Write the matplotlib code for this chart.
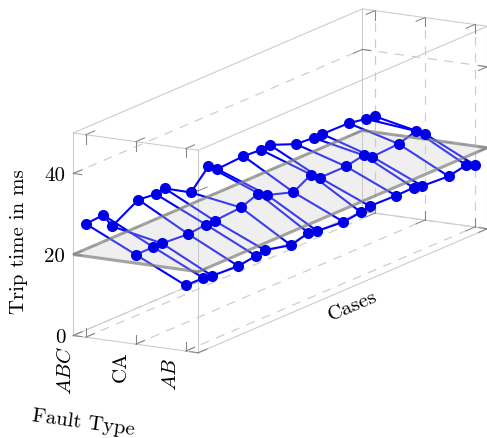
import numpy as np
import matplotlib
matplotlib.use('Agg')
import matplotlib.pyplot as plt

plt.rcParams['mathtext.fontset'] = 'cm'
plt.rcParams['axes.formatter.use_mathtext'] = True

# Data
fault_pos = [1, 2, 3]
fault_labels = [r'$ABC$', 'CA', r'$AB$']
case_pos = [0, 2, 3, 6, 8, 9, 12, 14, 15, 18, 20, 21, 24, 26, 27, 30, 32, 33]
time_abc = [28.0, 28.3, 24.6, 28.4, 27.9, 28.4, 24.6, 29.2, 27.6,
            28.0, 27.7, 28.0, 25.4, 25.1, 25.1, 25.0, 24.2, 23.9]
time_ca = [22.1, 22.1, 22.1, 21.6, 22.1, 22.1, 22.6, 24.2, 22.9,
           20.8, 23.3, 21.6, 21.6, 22.5, 21.2, 21.6, 22.9, 21.3]
time_ab = [16.2, 16.2, 15.8, 15.4, 16.1, 16.6, 15.0, 16.2, 15.7,
           15.2, 15.7, 16.3, 16.1, 16.2, 15.7, 15.3, 16.2, 15.3]
time_ticks = [0, 20, 40]
threshold = 20

# Axis limits
xmin, xmax = 0.75, 3.25
ymin, ymax = 0, 33
zmin, zmax = 0, 50


def project(f, c, t):
    # parallel projection of the 3d axis onto the page, in pixels
    f, c, t = np.asarray(f, float), np.asarray(c, float), np.asarray(t, float)
    px = 73.3 + 50.0 * (f - xmin) + 8.76 * c
    py = 336.5 + 6.92 * (f - xmin) - 3.76 * c - 4.05 * t
    return px, py


def line3(ax, a, b, **kw):
    xs, ys = project(*zip(a, b))
    ax.plot(xs, ys, **kw)


fig = plt.figure(figsize=(4.87, 4.39), dpi=100)
ax = fig.add_axes([0, 0, 1, 1])
ax.set_xlim(0, 487)
ax.set_ylim(439, 0)
ax.axis('off')

box = dict(color='#cacaca', lw=0.75, zorder=1)
grid = dict(color='#cccccc', lw=0.85, dashes=(7.5, 6.5), zorder=1)
tick = dict(color='#858585', lw=0.75, zorder=1.2)

# Box edges
for f in (xmin, xmax):
    for c in (ymin, ymax):
        line3(ax, (f, c, zmin), (f, c, zmax), **box)
    for t in (zmin, zmax):
        line3(ax, (f, ymin, t), (f, ymax, t), **box)
for c in (ymin, ymax):
    for t in (zmin, zmax):
        line3(ax, (xmin, c, t), (xmax, c, t), **box)

# Grid lines
for f in fault_pos:
    line3(ax, (f, ymin, zmin), (f, ymax, zmin), **grid)
    line3(ax, (f, ymax, zmin), (f, ymax, zmax), **grid)
for t in time_ticks:
    line3(ax, (xmin, ymin, t), (xmin, ymax, t), **grid)
    line3(ax, (xmin, ymax, t), (xmax, ymax, t), **grid)

# Ticks, in data lengths that give about 8 px on the page
dt = 2.2
dc = 1.0
df = 0.17
for f in fault_pos:
    for c, sc in ((ymin, 1), (ymax, -1)):
        for t, st in ((zmin, 1), (zmax, -1)):
            line3(ax, (f, c, t), (f, c, t + st * dt), **tick)
            line3(ax, (f, c, t), (f, c + sc * dc, t), **tick)
for t in time_ticks:
    for f, sf in ((xmin, 1), (xmax, -1)):
        for c, sc in ((ymin, 1), (ymax, -1)):
            line3(ax, (f, c, t), (f + sf * df, c, t), **tick)
            line3(ax, (f, c, t), (f, c + sc * dc, t), **tick)

# Mesh
times = np.array([time_abc, time_ca, time_ab])
cases = np.array(case_pos)
mesh = dict(color='#0000ff', lw=1.5, zorder=2, solid_capstyle='round')
for i, f in enumerate(fault_pos):
    xs, ys = project(np.full(len(cases), f), cases, times[i])
    ax.plot(xs, ys, **mesh)
for j, c in enumerate(case_pos):
    xs, ys = project(fault_pos, np.full(3, c), times[:, j])
    ax.plot(xs, ys, **mesh)

# Threshold plane
fs = [xmin, xmax, xmax, xmin]
cs = [ymin, ymin, ymax, ymax]
xs, ys = project(fs, cs, np.full(4, threshold))
ax.fill(xs, ys, facecolor='#cccccc', edgecolor='none', alpha=0.3, zorder=3)
ax.fill(xs, ys, facecolor='none', edgecolor='#808080', lw=2.2, alpha=0.7, zorder=3.1,
        joinstyle='miter')

# Markers
for i, f in enumerate(fault_pos):
    xs, ys = project(np.full(len(cases), f), cases, times[i])
    ax.plot(xs, ys, ls='none', marker='o', ms=8.0, color='#0000e6', mew=0, zorder=4)

# Labels
txt = dict(family='cmr10', fontsize=15, color='black')
for t in time_ticks:
    x, y = project(xmin, ymin, t)
    ax.text(x - 8, y + 2, str(t), ha='right', va='center', **txt)
label_shift = [-20, -15, -15]
label_drop = [8, 6, 6]
for f, lab, dx, dy in zip(fault_pos, fault_labels, label_shift, label_drop):
    x, y = project(f, ymin, zmin)
    ax.text(x + dx, y + dy, lab, rotation=90, ha='center', va='top', **txt)
ax.text(83.5, 423, 'Fault Type', rotation=-7.9, ha='center', va='center', **txt)
ax.text(353, 306, 'Cases', rotation=23.2, ha='center', va='center', **txt)
ax.text(19, 242, 'Trip time in ms', rotation=90, ha='center', va='center', **txt)

fig.savefig('out.png', dpi=100)
